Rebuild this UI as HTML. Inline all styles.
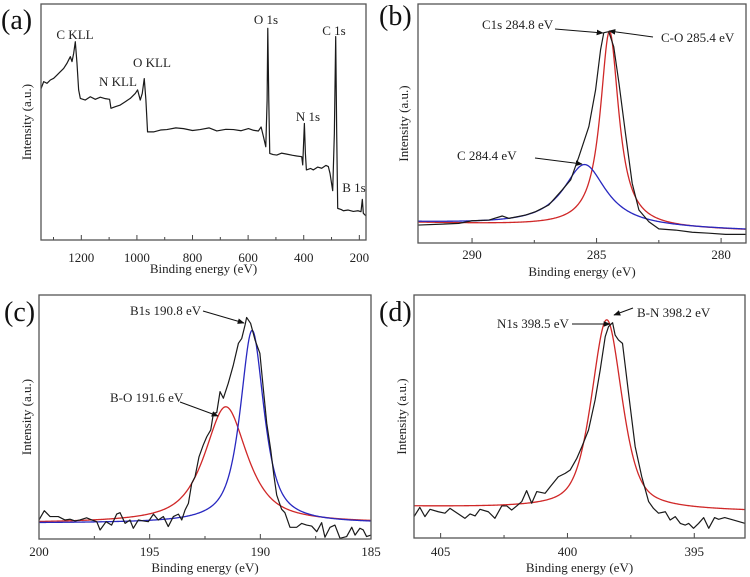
<!DOCTYPE html>
<html><head><meta charset="utf-8"><style>
html,body{margin:0;padding:0;background:#fff;}
svg{display:block;font-family:"Liberation Serif",serif;}
</style></head><body>
<svg id="fig" width="750" height="577" viewBox="0 0 750 577" xmlns="http://www.w3.org/2000/svg">
<defs><marker id="ah" viewBox="0 0 10 10" refX="9" refY="5" markerWidth="7" markerHeight="7" orient="auto"><path d="M0,1 L10,5 L0,9 z" fill="#111"/></marker></defs>
</svg>
<script>
// ---- Panel (a) survey data ----
const surveyEV = [1344.9,1335.3,1323.4,1311.4,1299.4,1287.4,1275.4,1263.5,1251.5,1245.5,1239.5,1233.5,1227.5,1221.6,1215.6,1209.6,1203.6,1185.6,1167.7,1149.7,1131.7,1113.8,1098.2,1093.4,1077.8,1059.9,1041.9,1023.9,1005.9,997.6,988.0,980.8,973.6,967.7,961.7,940.1,915,892.2,860,832.3,800,772.5,740,712.6,680,652.7,625,598.8,580.8,562.9,553.3,544.9,536.5,531.7,529.3,525.7,522.2,510,497.0,480,461.1,440,425.1,407.2,403.6,397.6,394.0,390.4,375,365.3,350,335.3,320,311.4,305.4,295.8,289.8,285.0,281.4,277.8,265,257.5,240,221.6,205,194.0,189.2,185.6,176.0];
const surveyInt = [64.1,67.1,66.4,67.8,68.5,69.9,71.3,72.7,74.9,76.3,77.7,75.6,79.1,84.0,74.9,63.6,60.0,59.3,60.7,59.6,60.5,59.9,59.6,55.8,56.5,57.2,58.6,60.0,62.1,63.6,59.3,62.1,68.4,59.3,45.8,45.8,46.6,46.8,47.5,47.2,46.4,46.8,47.5,46.2,46.9,46.8,46.3,47.2,46.5,46.2,47.9,43.8,39.5,59.3,89.7,59.3,36.7,36.2,36.0,36.8,36.4,35.9,35.6,35.3,31.8,49.4,36.7,29.7,30.3,29.7,30.9,30.4,31.6,31.1,28.2,20.9,45.2,86.2,45.2,13.4,12.9,12.4,12.7,12.1,12.4,12.0,17.2,11.3,10.2];
const surveyTicks = [1200,1000,800,600,400,200];
const surveyMinor = [1300,1100,900,700,500,300];
const surveyLabels = [["C KLL",75,39],["N KLL",118,86],["O KLL",152,67],["O 1s",266,24],["N 1s",308,121],["C 1s",334,35],["B 1s",354,192]];

// ---- Panel (b) C1s ----
const c1sEV = [292.16,291.20,290.53,289.99,289.32,288.79,288.52,287.85,287.45,286.92,286.38,286.04,285.71,285.31,285.04,284.84,284.71,284.51,284.31,284.10,283.84,283.57,283.30,282.90,282.50,281.83,281.16,280.49,279.82,278.98];
const c1sInt = [7.5,7.9,8.2,9.3,9.6,11.3,10.3,11.7,13.1,15.9,22.2,26.4,36.1,48.7,64,80.8,88,88.4,82.1,66.8,45.9,25,13.8,8.9,5.9,5.4,4.5,4.1,3.6,3.6];
const c1sPeakCenter = [284.48,285.48];
const c1sPeakHeight = [82,26];
const c1sPeakFwhm = [0.9,2.1];
const c1sPeakEta = [1,1];
const c1sPeakColor = ["#d02828","#2828c0"];
const c1sBase = [8.5,5.2];
const c1sTicks = [290,285,280];
const c1sMinor = [287.5,282.5];

// ---- Panel (c) B1s ----
const b1sEV = [200.00,199.76,199.50,199.13,198.83,198.60,198.37,198.15,197.85,197.62,197.39,197.24,196.97,196.72,196.49,196.34,196.11,195.89,195.74,195.51,195.29,195.06,194.83,194.61,194.38,194.16,193.93,193.70,193.55,193.40,193.25,193.10,192.95,192.77,192.58,192.42,192.24,192.12,191.97,191.82,191.67,191.45,191.22,190.99,190.84,190.69,190.62,190.44,190.24,190.02,189.86,189.71,189.53,189.38,189.26,189.04,188.89,188.66,188.36,188.13,187.91,187.68,187.45,187.23,187.08,186.85,186.63,186.40,186.10,185.87,185.72,185.50,185.35,185.20,185.00];
const b1sInt = [7.8,11.6,9.2,9.2,7.8,8.1,7.4,7.8,8.7,7.8,7.1,3.7,7.1,5.7,10.2,10.8,6.4,7.8,4.4,7.8,7.4,7.1,10.2,7.8,9.2,5.1,9.2,10.2,7.8,11.9,14.6,22.8,25.5,33.7,38.5,41.9,44.7,51.5,51.8,60.4,57.7,63.8,71.3,80.2,82.2,87.7,90.8,88.4,81.6,76.1,61.1,47.4,36.5,25.5,18.0,12.2,10.8,4.8,4.8,6.4,5.7,5.3,3.0,6.7,0.7,4.8,5.7,0.3,1.0,4.8,1.6,4.4,3.7,1.0,1.6];
const b1sPeakCenter = [191.56,190.37];
const b1sPeakHeight = [47.7,79];
const b1sPeakFwhm = [2.29,1.28];
const b1sPeakEta = [0.8,0.8];
const b1sPeakColor = ["#d02828","#2828c0"];
const b1sBase = [6.5,6.5];
const b1sTicks = [200,195,190,185];
const b1sMinor = [197.5,192.5,187.5];

// ---- Panel (d) N1s ----
const n1sEV = [406.05,405.82,405.62,405.42,405.09,404.83,404.63,404.37,404.04,403.84,403.64,403.45,403.12,402.86,402.59,402.39,402.20,402.00,401.80,401.61,401.41,401.21,400.88,400.68,400.36,400.09,399.89,399.63,399.43,399.17,398.91,398.71,398.51,398.38,398.22,398.12,397.99,397.83,397.59,397.33,397.07,396.80,396.61,396.41,396.14,395.95,395.75,395.55,395.36,395.22,395.03,394.83,394.63,394.43,394.20,394.04,393.80,393.45,392.99];
const n1sInt = [8.8,12.6,8.8,11.8,10.8,10.2,12.2,10.4,8.1,9.9,9.1,11.8,10.8,8.1,13.2,13.2,11.5,13.2,15.0,19.5,14.3,19.1,18.4,21.1,25.2,26.6,28.0,32.8,37.6,44.4,56.8,69.1,82.9,87.0,88.6,83.5,81.5,80.1,59.5,37.6,25.2,15.0,12.2,10.2,10.8,7.4,8.8,6.0,5.3,6.0,4.0,6.0,8.4,4.0,8.4,7.7,8.4,7.4,6.0];
const n1sPeakCenter = [398.45];
const n1sPeakHeight = [78];
const n1sPeakFwhm = [1.42];
const n1sPeakEta = [0.55];
const n1sPeakColor = ["#d02828"];
const n1sBase = [12.9,11.0];
const n1sTicks = [405,400,395];
const n1sMinor = [402.5,397.5];

const NS="http://www.w3.org/2000/svg";
const svg=document.getElementById('fig');
function mk(tag,attrs,parent){const e=document.createElementNS(NS,tag);for(const k in attrs)e.setAttribute(k,attrs[k]);(parent||svg).appendChild(e);return e;}

function panel(cfg){
  const g=mk('g',{});
  
  
  const {x0,y0,x1,y1}=cfg.box;
  const sx=v=>x0+(v-cfg.xd[0])/(cfg.xd[1]-cfg.xd[0])*(x1-x0);
  const sy=v=>y1-(v-0)/100*(y1-y0);
  // ticks
  cfg.ticks.forEach(t=>{
    const tk=mk('line',{x1:sx(t),x2:sx(t),y1:y1,y2:y1-5,stroke:'#444','stroke-width':1},g);
    
    
    const tl=mk('text',{x:sx(t),y:cfg.tickY,'font-size':13,'text-anchor':'middle',fill:'#222'},g);
    tl.textContent=t;
    
    
  });
  cfg.minor.forEach(t=>{
    const tk=mk('line',{x1:sx(t),x2:sx(t),y1:y1,y2:y1-3,stroke:'#444','stroke-width':1},g);
    
    
  });
  // fits
  if(cfg.pc){
    const base=v=>cfg.base[0]+(v-cfg.xd[0])/(cfg.xd[1]-cfg.xd[0])*(cfg.base[1]-cfg.base[0]);
    cfg.pc.forEach((c,i)=>{
      let d='';
      const n=400;
      for(let k=0;k<=n;k++){
        const v=cfg.xd[0]+(cfg.xd[1]-cfg.xd[0])*k/n;
        const u=(v-c)/(cfg.pw[i]/2);
        const L=1/(1+u*u), G=Math.exp(-Math.LN2*u*u);
        const val=base(v)+cfg.ph[i]*(cfg.pe[i]*L+(1-cfg.pe[i])*G);
        d+=(k?'L':'M')+sx(v).toFixed(2)+','+sy(val).toFixed(2);
      }
      const p=mk('path',{d:d,fill:'none',stroke:cfg.pcol[i],'stroke-width':1.3},g);
      
      
    });
  }
  // data
  let d='';
  cfg.ex.forEach((v,i)=>{d+=(i?'L':'M')+sx(v).toFixed(2)+','+sy(cfg.ey[i]).toFixed(2);});
  const dl=mk('path',{d:d,fill:'none',stroke:'#1a1a1a','stroke-width':1.2,'stroke-linejoin':'round'},g);
  
  
  // frame
  const fr=mk('rect',{x:x0,y:y0,width:x1-x0,height:y1-y0,fill:'none',stroke:'#555','stroke-width':1.3},g);
  
  
  // axis titles
  const xt=mk('text',{x:(x0+x1)/2,y:cfg.xlabY,'font-size':13,'text-anchor':'middle',fill:'#222'},g);
  xt.textContent='Binding energy (eV)';
  
  
  const yt=mk('text',{x:0,y:0,'font-size':13,'text-anchor':'middle',fill:'#222',transform:`translate(${cfg.ylabX},${(y0+y1)/2}) rotate(-90)`},g);
  yt.textContent='Intensity (a.u.)';
  
  
  const pl=mk('text',{x:cfg.letter[1],y:cfg.letter[2],'font-size':28,fill:'#111'},g);
  pl.textContent=cfg.letter[0];
  
  
  return g;
}
function note(txt,x,y,anchor){
  const t=mk('text',{x:x,y:y,'font-size':13,'text-anchor':anchor||'start',fill:'#222'});
  t.textContent=txt;
  
  
}
function arrow(ax,ay,bx,by){
  const l=mk('line',{x1:ax,y1:ay,x2:bx,y2:by,stroke:'#111','stroke-width':1,'marker-end':'url(#ah)'});
  
  
}

panel({name:'panel-a-survey',box:{x0:41,y0:4,x1:366,y1:240},xd:[1345,176],ticks:surveyTicks,minor:surveyMinor,
  ex:surveyEV,ey:surveyInt,tickY:262,xlabY:273,ylabX:31,letter:['(a)',1,29]});
surveyLabels.forEach(l=>note(l[0],l[1],l[2],'middle'));

panel({name:'panel-b-c1s',box:{x0:418,y0:4,x1:746,y1:243},xd:[292.17,279.0],ticks:c1sTicks,minor:c1sMinor,
  ex:c1sEV,ey:c1sInt,pc:c1sPeakCenter,ph:c1sPeakHeight,pw:c1sPeakFwhm,pe:c1sPeakEta,pcol:c1sPeakColor,base:c1sBase,
  tickY:259,xlabY:276,ylabX:408,letter:['(b)',379,25]});
note('C1s 284.8 eV',482,29);arrow(555,29,603,33);
note('C-O 285.4 eV',661,42);arrow(653,37,609,31);
note('C 284.4 eV',457,160);arrow(535,158,582,164);

panel({name:'panel-c-b1s',box:{x0:39,y0:295,x1:371,y1:539},xd:[200,185],ticks:b1sTicks,minor:b1sMinor,
  ex:b1sEV,ey:b1sInt,pc:b1sPeakCenter,ph:b1sPeakHeight,pw:b1sPeakFwhm,pe:b1sPeakEta,pcol:b1sPeakColor,base:b1sBase,
  tickY:556,xlabY:572,ylabX:31,letter:['(c)',4,321]});
note('B1s 190.8 eV',130,315);arrow(203,311,244,323);
note('B-O 191.6 eV',110,402);arrow(180,402,218,416);

panel({name:'panel-d-n1s',box:{x0:414,y0:295,x1:745,y1:538},xd:[406.05,393.0],ticks:n1sTicks,minor:n1sMinor,
  ex:n1sEV,ey:n1sInt,pc:n1sPeakCenter,ph:n1sPeakHeight,pw:n1sPeakFwhm,pe:n1sPeakEta,pcol:n1sPeakColor,base:n1sBase,
  tickY:556,xlabY:572,ylabX:406,letter:['(d)',379,321]});
note('B-N 398.2 eV',637,317);arrow(633,308,614,315);
note('N1s 398.5 eV',497,328);arrow(572,324,610,324);
</script>
</body></html>
